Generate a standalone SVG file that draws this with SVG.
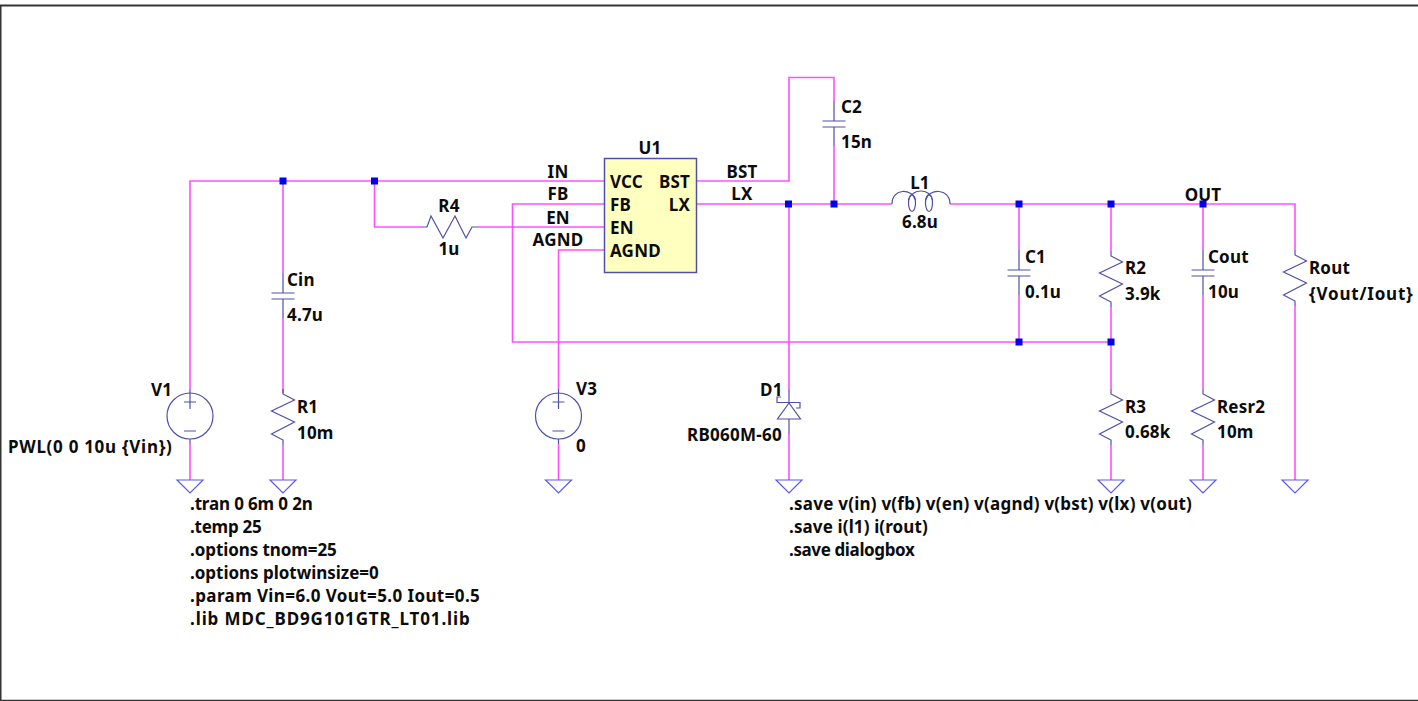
<svg xmlns="http://www.w3.org/2000/svg" width="1418" height="701" viewBox="0 0 1418 701">
<style>
text{font-family:"Noto Sans","DejaVu Sans",sans-serif;font-weight:700;font-size:17px;letter-spacing:.2px;fill:#0c0c0c;transform:translateY(1px)}
.m{text-anchor:middle}.e{text-anchor:end}
.w{fill:none;stroke:#ff50ff;stroke-width:1.600}
.s{fill:none;stroke:#5050a8;stroke-width:1.200}
.g{fill:none;stroke:#5a5af0;stroke-width:1.200}
.j{fill:#0000f0}
</style>
<defs>
<rect id="dot" class="j" x="-3.500" y="-3.500" width="7" height="7"/>
<path id="gnd" class="g" d="M-13 0H13L0 13Z"/>
<path id="res" class="s" d="M0 0V5L11.500 11L-11.500 22L11.500 33L-11.500 45L0 51V56"/>
<g id="cap" class="s"><path d="M0 0V20M-11.500 20H11.500M-11.500 26H11.500M0 26V45"/></g>
<g id="src" class="s"><circle r="23"/><path d="M0 -27V-7M-6 -14H6M-6 15H6M0 23V28"/></g>
</defs>
<rect width="1418" height="701" fill="#fff"/>
<path d="M0.500 700V5.500H1418" fill="none" stroke="#333" stroke-width="2"/>
<path d="M0 700.500H1418" fill="none" stroke="#333" stroke-width="1.500"/>
<g id="connectors">
<path class="w" d="M604 181H190V389M190 444V480"/>
<path class="w" d="M283 181V273M283 318V393M283 445V480"/>
<path class="w" d="M374.500 181V227H421M478 227H604"/>
<path class="w" d="M604 204H512.500V342H1111"/>
<path class="w" d="M604 250H558.500V389M558.500 444V480"/>
<path class="w" d="M697 181H789V77.500H834V101M834 146V204"/>
<path class="w" d="M697 204H892M950 204H1295V250M1295 306V480"/>
<path class="w" d="M789 204V389M789 434V480"/>
<path class="w" d="M1019 204V250M1019 295V342"/>
<path class="w" d="M1111 204V251M1111 307V389M1111 445V480"/>
<path class="w" d="M1203 204V250M1203 295V389M1203 445V480"/>
</g>
<g id="U1"><rect x="604.500" y="158.500" width="92" height="114" fill="#ffffc0" stroke="#5050a8" stroke-width="1.500"/>
<text x="650" y="153" class="m">U1</text>
<text x="610" y="187">VCC</text><text x="610" y="209.500">FB</text><text x="610" y="232.500">EN</text><text x="610" y="256">AGND</text>
<text x="690" y="187" class="e">BST</text><text x="690" y="209.500" class="e">LX</text></g>
<g id="net-labels"><text x="558" y="177" class="m">IN</text><text x="558" y="199" class="m">FB</text><text x="558" y="222.500" class="m">EN</text><text x="558" y="245" class="m">AGND</text>
<text x="742" y="177" class="m">BST</text><text x="742" y="199" class="m">LX</text><text x="1203" y="200" class="m">OUT</text></g>
<g id="V1"><use href="#src" x="190" y="416"/><text x="151" y="395">V1</text><text x="8" y="452" textLength="164">PWL(0 0 10u {Vin})</text></g>
<g id="V3"><use href="#src" x="558.500" y="416"/><text x="576" y="394">V3</text><text x="576" y="451">0</text></g>
<g id="Cin"><use href="#cap" x="283" y="273"/><text x="287" y="285">Cin</text><text x="287" y="320">4.7u</text></g>
<g id="R1"><use href="#res" x="283" y="389"/><text x="297" y="412">R1</text><text x="297" y="438">10m</text></g>
<g id="R4"><path class="s" d="M421 227H427L431 216L443 238L455 216L466 238L472 227H478"/><text x="449" y="211" class="m">R4</text><text x="449" y="254" class="m">1u</text></g>
<g id="C2"><use href="#cap" x="834" y="101"/><text x="841" y="112">C2</text><text x="841" y="147">15n</text></g>
<g id="L1"><path class="s" d="M892 204C892 188 912 188 915.500 200M908.500 200C912 188 930 188 932.500 200M925.500 200C929 188 950 188 950 204"/><ellipse class="s" cx="912" cy="203" rx="3.500" ry="8.500"/><ellipse class="s" cx="929" cy="203" rx="3.500" ry="8.500"/><text x="920" y="187.500" class="m">L1</text><text x="920" y="227" class="m">6.8u</text></g>
<g id="C1"><use href="#cap" x="1019" y="250"/><text x="1025" y="262">C1</text><text x="1025" y="297">0.1u</text></g>
<g id="R2"><use href="#res" x="1111" y="251"/><text x="1125" y="273">R2</text><text x="1125" y="299">3.9k</text></g>
<g id="R3"><use href="#res" x="1111" y="389"/><text x="1125" y="412">R3</text><text x="1125" y="437">0.68k</text></g>
<g id="Cout"><use href="#cap" x="1203" y="250"/><text x="1208" y="262">Cout</text><text x="1208" y="297">10u</text></g>
<g id="Resr2"><use href="#res" x="1203" y="389"/><text x="1217" y="412">Resr2</text><text x="1217" y="437">10m</text></g>
<g id="Rout"><use href="#res" x="1295" y="250"/><text x="1309" y="273">Rout</text><text x="1309" y="299" textLength="104">{Vout/Iout}</text></g>
<g id="D1"><path class="s" d="M789 389V402.500M781 397H777V402.500H800V408H796M789 403L777.500 419H800.500ZM789 419V434"/><text x="760" y="395">D1</text><text x="687" y="440" textLength="95">RB060M-60</text></g>
<g id="grounds"><use href="#gnd" x="190" y="480"/><use href="#gnd" x="283" y="480"/><use href="#gnd" x="558.500" y="480"/><use href="#gnd" x="789" y="480"/><use href="#gnd" x="1111" y="480"/><use href="#gnd" x="1203" y="480"/><use href="#gnd" x="1295" y="480"/></g>
<g id="junctions"><use href="#dot" x="283" y="181"/><use href="#dot" x="374.500" y="181"/><use href="#dot" x="788.500" y="204"/><use href="#dot" x="834" y="204"/><use href="#dot" x="1019" y="204"/><use href="#dot" x="1111" y="204"/><use href="#dot" x="1203" y="204"/><use href="#dot" x="1019" y="342"/><use href="#dot" x="1111" y="342"/></g>
<g id="directives-left"><text x="190" y="509" textLength="123">.tran 0 6m 0 2n</text><text x="190" y="532" textLength="72">.temp 25</text><text x="190" y="555" textLength="147">.options tnom=25</text><text x="190" y="578" textLength="189">.options plotwinsize=0</text><text x="190" y="601" textLength="290">.param Vin=6.0 Vout=5.0 Iout=0.5</text><text x="190" y="624" textLength="280">.lib MDC_BD9G101GTR_LT01.lib</text></g>
<g id="directives-right"><text x="789" y="509" textLength="403">.save v(in) v(fb) v(en) v(agnd) v(bst) v(lx) v(out)</text><text x="789" y="532" textLength="139">.save i(l1) i(rout)</text><text x="789" y="555" textLength="126">.save dialogbox</text></g>
</svg>
